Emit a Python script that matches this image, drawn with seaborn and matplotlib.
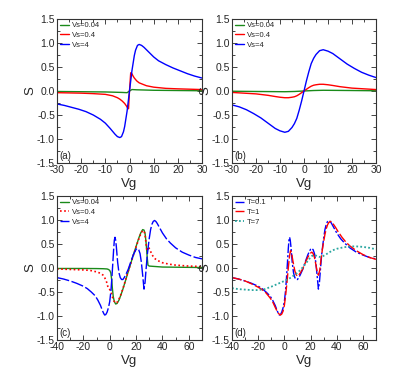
import numpy as np
import pandas as pd
import matplotlib
matplotlib.use("Agg")
import matplotlib.pyplot as plt
from matplotlib.ticker import MultipleLocator, FormatStrFormatter
import seaborn as sns

sns.set_style("ticks")
plt.rcParams['font.family'] = ['Liberation Sans', 'DejaVu Sans']
plt.rcParams['axes.unicode_minus'] = False

# ---------- panel (a) ----------
a_x_vs004 = [-30, -20, -10, -3, -1, 0, 1, 3, 10, 20, 30]
a_y_vs004 = [-0.01, -0.015, -0.02, -0.03, -0.035, 0.0, 0.03, 0.025, 0.015, 0.01, 0.005]
a_x_vs04 = [-30, -25, -20, -15, -10, -7, -5, -4, -3, -2, -1.3, -0.7, -0.4, 0.0, 0.5, 1, 1.5, 2, 3, 4, 5, 7, 10, 15, 20, 30]
a_y_vs04 = [-0.035, -0.04, -0.045, -0.055, -0.07, -0.10, -0.14, -0.17, -0.21, -0.26, -0.31, -0.36, -0.37, 0.0, 0.38, 0.36, 0.31, 0.27, 0.21, 0.17, 0.15, 0.11, 0.08, 0.055, 0.045, 0.03]
a_x_vs4 = [-30, -27, -24, -21, -18, -15, -12, -10, -8, -6, -5, -4, -3.3, -2.5, -2, -1, 0, 1, 2, 2.5, 3.3, 4, 5, 6, 8, 10, 12, 15, 18, 21, 24, 27, 30]
a_y_vs4 = [-0.27, -0.30, -0.34, -0.38, -0.43, -0.50, -0.59, -0.67, -0.78, -0.90, -0.95, -0.97, -0.95, -0.85, -0.74, -0.42, 0.0, 0.42, 0.74, 0.85, 0.95, 0.97, 0.95, 0.91, 0.81, 0.71, 0.63, 0.55, 0.48, 0.42, 0.36, 0.31, 0.27]

# ---------- panel (b) ----------
b_x_vs004 = [-30, -20, -8, -4, 0, 4, 8, 20, 30]
b_y_vs004 = [-0.005, -0.01, -0.015, -0.01, 0.0, 0.01, 0.015, 0.01, 0.005]
b_x_vs04 = [-30, -25, -20, -15, -12, -10, -8, -6.5, -5, -4, -3, -2, -1, 0, 1, 2, 3, 4, 5, 6.5, 8, 10, 12, 15, 20, 25, 30]
b_y_vs04 = [-0.03, -0.045, -0.06, -0.09, -0.115, -0.13, -0.14, -0.14, -0.13, -0.12, -0.10, -0.07, -0.035, 0.0, 0.035, 0.07, 0.10, 0.12, 0.13, 0.14, 0.14, 0.13, 0.115, 0.09, 0.06, 0.045, 0.03]
b_x_vs4 = [-30, -27, -24, -21, -18, -15, -12, -10, -8, -6.5, -5, -4, -3, -2, -1, 0, 1, 2, 3, 4, 5, 6.5, 8, 10, 12, 15, 18, 21, 24, 27, 30]
b_y_vs4 = [-0.29, -0.33, -0.39, -0.47, -0.56, -0.67, -0.78, -0.83, -0.86, -0.84, -0.76, -0.68, -0.57, -0.40, -0.21, 0.0, 0.21, 0.40, 0.57, 0.68, 0.76, 0.84, 0.86, 0.83, 0.78, 0.67, 0.56, 0.47, 0.39, 0.33, 0.28]

# ---------- panel (c) ----------
c_x_vs004 = [-40, -20, -10, -5, -2, -1, 0, 0.8, 1.5, 2, 2.7, 3.5, 4.5, 5.5, 7, 8.5, 10, 12, 14, 16, 18, 20, 22, 23.5, 25, 26, 26.8, 27.5, 28, 28.5, 29, 30, 35, 40, 55, 70]
c_y_vs004 = [-0.01, -0.01, -0.012, -0.015, -0.02, -0.03, -0.05, -0.10, -0.25, -0.42, -0.60, -0.70, -0.75, -0.74, -0.67, -0.56, -0.44, -0.26, -0.08, 0.10, 0.28, 0.45, 0.62, 0.73, 0.80, 0.79, 0.72, 0.55, 0.38, 0.20, 0.06, 0.04, 0.03, 0.02, 0.015, 0.01]
c_x_vs04 = [-40, -30, -20, -15, -10, -7, -5, -4, -3, -2, -1.5, -1, 0, 1, 2, 3, 4.5, 5.5, 7, 8.5, 10, 12, 14, 16, 18, 20, 22, 23.5, 25, 26, 26.8, 27.5, 28.3, 29.3, 30.5, 32, 34, 36, 40, 45, 50, 60, 70]
c_y_vs04 = [-0.02, -0.03, -0.04, -0.05, -0.08, -0.11, -0.15, -0.19, -0.25, -0.32, -0.38, -0.42, -0.45, -0.50, -0.60, -0.68, -0.73, -0.72, -0.65, -0.55, -0.43, -0.25, -0.07, 0.10, 0.27, 0.44, 0.60, 0.71, 0.78, 0.77, 0.70, 0.52, 0.35, 0.44, 0.38, 0.28, 0.20, 0.16, 0.11, 0.08, 0.06, 0.04, 0.03]
c_x_vs4 = [-40, -35, -30, -25, -20, -17, -14, -11, -9, -7, -5.5, -4.5, -3.8, -3, -2, -1, 0, 1, 2, 3, 3.5, 4, 4.5, 5, 6, 7, 8, 9, 10, 11, 12, 14, 16, 18, 20, 21, 22, 23, 24, 25, 26, 26.8, 27.5, 28.5, 30, 31, 32, 33, 34, 35, 36, 38, 40, 43, 46, 50, 55, 60, 65, 70]
c_y_vs4 = [-0.20, -0.23, -0.27, -0.32, -0.38, -0.43, -0.50, -0.58, -0.67, -0.78, -0.89, -0.95, -0.98, -0.97, -0.92, -0.83, -0.70, -0.45, -0.05, 0.40, 0.58, 0.64, 0.58, 0.45, 0.12, -0.10, -0.20, -0.24, -0.24, -0.20, -0.15, -0.03, 0.13, 0.28, 0.39, 0.41, 0.38, 0.30, 0.12, -0.15, -0.44, -0.30, -0.05, 0.28, 0.62, 0.80, 0.91, 0.97, 0.99, 0.97, 0.93, 0.83, 0.73, 0.61, 0.52, 0.42, 0.33, 0.27, 0.22, 0.19]

# ---------- panel (d) ----------
d_x_t01 = c_x_vs4
d_y_t01 = c_y_vs4
d_x_t1 = [-40, -35, -30, -25, -20, -17, -14, -11, -9, -7, -5, -4, -3, -2, -1, 0, 1, 2, 3, 4, 4.7, 5.5, 6.5, 8, 9, 10, 11, 12, 14, 16, 18, 20, 21, 22, 23, 24, 25, 26, 27, 28, 29, 30, 31, 32, 33, 34, 35.5, 37, 39, 41, 44, 47, 50, 55, 60, 65, 70]
d_y_t1 = [-0.20, -0.23, -0.27, -0.33, -0.40, -0.45, -0.52, -0.62, -0.70, -0.82, -0.93, -0.96, -0.98, -0.96, -0.90, -0.78, -0.56, -0.30, 0.0, 0.26, 0.36, 0.32, 0.15, -0.06, -0.14, -0.17, -0.15, -0.11, -0.02, 0.11, 0.23, 0.31, 0.33, 0.30, 0.22, 0.08, -0.07, -0.15, -0.05, 0.18, 0.38, 0.55, 0.70, 0.82, 0.90, 0.95, 0.97, 0.93, 0.85, 0.76, 0.64, 0.54, 0.46, 0.36, 0.28, 0.22, 0.18]
d_x_t7 = [-40, -35, -30, -25, -20, -15, -10, -5, 0, 5, 10, 13, 16, 19, 21, 23, 25, 27, 29, 31, 34, 37, 40, 45, 50, 55, 60, 65, 70]
d_y_t7 = [-0.42, -0.44, -0.45, -0.46, -0.46, -0.44, -0.39, -0.33, -0.27, -0.20, -0.10, -0.02, 0.08, 0.19, 0.25, 0.27, 0.25, 0.23, 0.24, 0.27, 0.32, 0.37, 0.40, 0.43, 0.45, 0.45, 0.44, 0.42, 0.39]

labels_vs = ["Vs=0.04", "Vs=0.4", "Vs=4"]
labels_t = ["T=0.1", "T=1", "T=7"]
panel_tags = ["(a)", "(b)", "(c)", "(d)"]

GREEN = "#1a8a1a"
RED = "#ff0000"
BLUE = "#0000ff"
TEAL = "#2aa6a0"

fig = plt.figure(figsize=(4.15, 3.74), dpi=100)
W, H = 415, 374
def add_ax(l, t, r, b):
    return fig.add_axes([l / W, 1 - b / H, (r - l) / W, (b - t) / H])

axA = add_ax(57, 19, 202, 163)
axB = add_ax(232, 19, 376, 163)
axC = add_ax(57, 196, 202, 340)
axD = add_ax(232, 196, 376, 340)

def draw(ax, xs, ys, color, ls, label, lw=1.0):
    sns.lineplot(x=xs, y=ys, ax=ax, color=color, linestyle=ls, label=label,
                 estimator=None, sort=False, linewidth=lw)

draw(axA, a_x_vs004, a_y_vs004, GREEN, "-", labels_vs[0])
draw(axA, a_x_vs04, a_y_vs04, RED, "-", labels_vs[1])
draw(axA, a_x_vs4, a_y_vs4, BLUE, "-", labels_vs[2])

draw(axB, b_x_vs004, b_y_vs004, GREEN, "-", labels_vs[0])
draw(axB, b_x_vs04, b_y_vs04, RED, "-", labels_vs[1])
draw(axB, b_x_vs4, b_y_vs4, BLUE, "-", labels_vs[2])

draw(axC, c_x_vs004, c_y_vs004, GREEN, "-", labels_vs[0])
draw(axC, c_x_vs04, c_y_vs04, RED, (0, (1, 1.5)), labels_vs[1], lw=1.2)
draw(axC, c_x_vs4, c_y_vs4, BLUE, (0, (9, 1.8)), labels_vs[2])

draw(axD, d_x_t01, d_y_t01, BLUE, (0, (7, 1.5, 1.5, 1.5)), labels_t[0])
draw(axD, d_x_t1, d_y_t1, RED, (0, (7, 1.8)), labels_t[1])
draw(axD, d_x_t7, d_y_t7, TEAL, (0, (1, 1.2)), labels_t[2], lw=1.3)

for ax, tag in zip([axA, axB, axC, axD], panel_tags):
    top = ax in (axA, axB)
    if top:
        ax.set_xlim(-30, 30)
        ax.xaxis.set_major_locator(MultipleLocator(10))
        ax.xaxis.set_minor_locator(MultipleLocator(5))
    else:
        ax.set_xlim(-40, 70)
        ax.xaxis.set_major_locator(MultipleLocator(20))
        ax.xaxis.set_minor_locator(MultipleLocator(10))
    ax.set_ylim(-1.5, 1.5)
    ax.yaxis.set_major_locator(MultipleLocator(0.5))
    ax.yaxis.set_minor_locator(MultipleLocator(0.25))
    ax.yaxis.set_major_formatter(FormatStrFormatter('%.1f'))
    ax.tick_params(which='both', direction='in', top=True, right=True,
                   labelsize=7.5, pad=1.5, width=0.6)
    ax.tick_params(which='major', length=3.5)
    ax.tick_params(which='minor', length=2)
    for sp in ax.spines.values():
        sp.set_linewidth(0.8)
        sp.set_color('#333333')
    ax.set_xlabel("Vg", fontsize=9.5, labelpad=2)
    ax.set_ylabel("S", fontsize=9.5)
    ax.yaxis.set_label_coords(-0.14, 0.5)
    ax.text(0.015, 0.015, tag, transform=ax.transAxes, fontsize=7,
            ha='left', va='bottom')
    ax.legend(loc='upper left', frameon=False, fontsize=5.5,
              handlelength=1.2, handletextpad=0.3, labelspacing=0.3,
              borderaxespad=0.2, borderpad=0.2)

fig.savefig("out.png", dpi=100)
